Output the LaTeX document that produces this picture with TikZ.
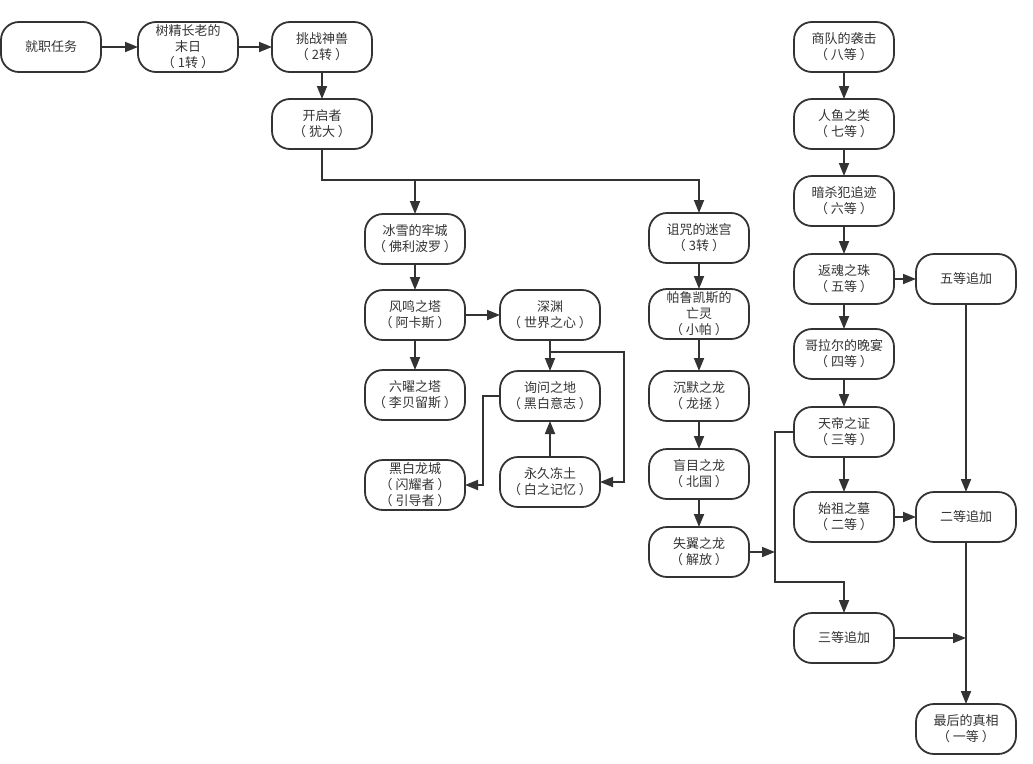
\documentclass[tikz,border=0pt]{standalone}
\usepackage{fontspec}
\setmainfont{Noto Sans CJK SC}
\usepackage{tikz}
\usetikzlibrary{arrows.meta}
\usetikzlibrary{positioning}
\definecolor{ink}{HTML}{333333}
\tikzset{
    quest/.style={
           rectangle,
           rounded corners=18pt,
           draw=ink, line width=1.8pt,
           minimum width=100pt, minimum height=50pt,
           inner sep=1pt, outer sep=0pt,
           align=center,
           text=ink,
           font=\fontsize{13}{16}\selectfont,
           },
}
\tikzset{
    link/.style={
           draw=ink, line width=1.8pt,
           -{Triangle[length=13pt,width=10pt]},
           },
}

\begin{document}
\begin{tikzpicture}[x=1pt,y=-1pt]
\useasboundingbox (0,0) rectangle (1033,763);
% opening quests
\node[quest] at (51,47) (job){就职任务};
\node[quest,right = 37pt of job](elder){树精长老的\\末日\\（ 1转 ）};
\node[quest,right = 34pt of elder](beast){挑战神兽\\（ 2转 ）};
\node[quest,below = 27pt of beast](opener){开启者\\（ 犹大 ）};
\coordinate[below = 31pt of opener.south](fork);
% left branch
\node[quest] at (415,239) (ice){冰雪的牢城\\（ 佛利波罗 ）};
\node[quest,below = 26pt of ice](wind){风鸣之塔\\（ 阿卡斯 ）};
\node[quest,below = 30pt of wind](six){六曜之塔\\（ 李贝留斯 ）};
\node[quest,below = 40pt of six](castle){黑白龙城\\（ 闪耀者 ）\\（ 引导者 ）};
\node[quest,right = 35pt of wind](abyss){深渊\\（ 世界之心 ）};
\node[quest,below = 31pt of abyss](ask){询问之地\\（ 黑白意志 ）};
\node[quest,below = 36pt of ask](frost){永久冻土\\（ 白之记忆 ）};
\coordinate[below = 12pt of abyss.south](abS);
\coordinate[right = 24pt of abyss.east](abE);
\coordinate[left = 17pt of ask.west](askW);
% middle branch
\node[quest] at (699,238) (curse){诅咒的迷宫\\（ 3转 ）};
\node[quest,below = 26pt of curse](palu){帕鲁凯斯的\\亡灵\\（ 小帕 ）};
\node[quest,below = 32pt of palu](silent){沉默之龙\\（ 龙拯 ）};
\node[quest,below = 28pt of silent](blind){盲目之龙\\（ 北国 ）};
\node[quest,below = 28pt of blind](wing){失翼之龙\\（ 解放 ）};
% ranks
\node[quest] at (844,47) (caravan){商队的袭击\\（ 八等 ）};
\node[quest,below = 27pt of caravan](mermaid){人鱼之类\\（ 七等 ）};
\node[quest,below = 27pt of mermaid](assassin){暗杀犯追迹\\（ 六等 ）};
\node[quest,below = 28pt of assassin](pearl){返魂之珠\\（ 五等 ）};
\node[quest,below = 25pt of pearl](feast){哥拉尔的晚宴\\（ 四等 ）};
\node[quest,below = 28pt of feast](proof){天帝之证\\（ 三等 ）};
\node[quest,below = 35pt of proof](tomb){始祖之墓\\（ 二等 ）};
\node[quest,below = 71pt of tomb](three){三等追加};
\node[quest,right = 22pt of pearl](five){五等追加};
\node[quest,right = 22pt of tomb](two){二等追加};
\node[quest,below = 162pt of two](truth){最后的真相\\（ 一等 ）};
\coordinate[left = 19pt of proof.west](proofW);
\coordinate[above = 31pt of three.north](threeN);
% connectors
\draw[link] (job)--(elder);
\draw[link] (elder)--(beast);
\draw[link] (beast)--(opener);
\draw[link] (opener.south)--(fork)-|(curse.north);
\draw[link] (fork -| ice.north)--(ice.north);
\draw[link] (ice)--(wind);
\draw[link] (wind)--(six);
\draw[link] (wind)--(abyss);
\draw[link] (abyss)--(ask);
\draw[link] (abS)--(abS -| abE)|-(frost.east);
\draw[link] (frost)--(ask);
\draw[link] (ask.west)--(askW)|-(castle.east);
\draw[link] (curse)--(palu);
\draw[link] (palu)--(silent);
\draw[link] (silent)--(blind);
\draw[link] (blind)--(wing);
\draw[link] (wing.east)--(wing.east -| proofW);
\draw[link] (caravan)--(mermaid);
\draw[link] (mermaid)--(assassin);
\draw[link] (assassin)--(pearl);
\draw[link] (pearl)--(feast);
\draw[link] (feast)--(proof);
\draw[link] (proof)--(tomb);
\draw[link] (pearl)--(five);
\draw[link] (tomb)--(two);
\draw[link] (proof.west)--(proofW)|-(threeN)--(three.north);
\draw[link] (five)--(two);
\draw[link] (two)--(truth);
\draw[link] (three.east)--(three.east -| two.south);
\end{tikzpicture}
\end{document}
